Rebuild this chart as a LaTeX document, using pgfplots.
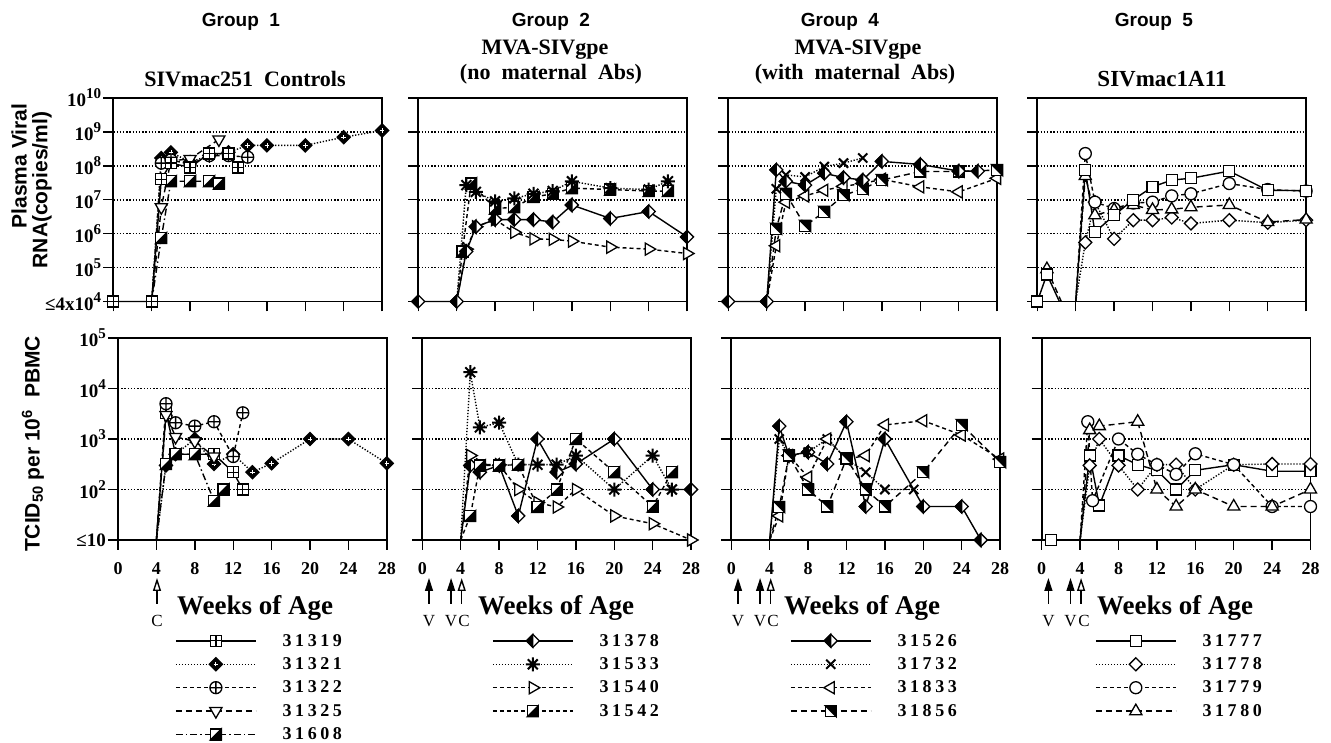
\documentclass[border=0pt]{standalone}
\usepackage{fontspec}
\setmainfont{Liberation Serif}
\newfontfamily\hsans{Liberation Sans}
\usepackage{pgfplots}
\pgfplotsset{compat=1.18}
\usetikzlibrary{arrows.meta}

% ---------- custom marks ----------
\pgfdeclareplotmark{sqplus}{%
  \pgfpathrectangle{\pgfqpoint{-\pgfplotmarksize}{-\pgfplotmarksize}}{\pgfqpoint{2\pgfplotmarksize}{2\pgfplotmarksize}}%
  \pgfusepathqfillstroke
  \pgfpathmoveto{\pgfqpoint{-\pgfplotmarksize}{0pt}}\pgfpathlineto{\pgfqpoint{\pgfplotmarksize}{0pt}}%
  \pgfpathmoveto{\pgfqpoint{0pt}{-\pgfplotmarksize}}\pgfpathlineto{\pgfqpoint{0pt}{\pgfplotmarksize}}%
  \pgfusepathqstroke}
\pgfdeclareplotmark{sqBR}{%
  \pgfpathrectangle{\pgfqpoint{-\pgfplotmarksize}{-\pgfplotmarksize}}{\pgfqpoint{2\pgfplotmarksize}{2\pgfplotmarksize}}%
  \pgfusepathqfillstroke
  \pgfscope\pgfsetfillcolor{black}%
  \pgfpathmoveto{\pgfqpoint{\pgfplotmarksize}{\pgfplotmarksize}}%
  \pgfpathlineto{\pgfqpoint{\pgfplotmarksize}{-\pgfplotmarksize}}%
  \pgfpathlineto{\pgfqpoint{-\pgfplotmarksize}{-\pgfplotmarksize}}%
  \pgfpathclose\pgfusepathqfillstroke
  \endpgfscope}
\pgfdeclareplotmark{sqTR}{%
  \pgfpathrectangle{\pgfqpoint{-\pgfplotmarksize}{-\pgfplotmarksize}}{\pgfqpoint{2\pgfplotmarksize}{2\pgfplotmarksize}}%
  \pgfusepathqfillstroke
  \pgfscope\pgfsetfillcolor{black}%
  \pgfpathmoveto{\pgfqpoint{-\pgfplotmarksize}{\pgfplotmarksize}}%
  \pgfpathlineto{\pgfqpoint{\pgfplotmarksize}{\pgfplotmarksize}}%
  \pgfpathlineto{\pgfqpoint{\pgfplotmarksize}{-\pgfplotmarksize}}%
  \pgfpathclose\pgfusepathqfillstroke
  \endpgfscope}
\pgfdeclareplotmark{diam}{%
  \pgfpathmoveto{\pgfqpoint{0pt}{1.3\pgfplotmarksize}}%
  \pgfpathlineto{\pgfqpoint{1.3\pgfplotmarksize}{0pt}}%
  \pgfpathlineto{\pgfqpoint{0pt}{-1.3\pgfplotmarksize}}%
  \pgfpathlineto{\pgfqpoint{-1.3\pgfplotmarksize}{0pt}}%
  \pgfpathclose\pgfusepathqfillstroke}
\pgfdeclareplotmark{diahalf}{%
  \pgfpathmoveto{\pgfqpoint{0pt}{1.3\pgfplotmarksize}}%
  \pgfpathlineto{\pgfqpoint{1.3\pgfplotmarksize}{0pt}}%
  \pgfpathlineto{\pgfqpoint{0pt}{-1.3\pgfplotmarksize}}%
  \pgfpathlineto{\pgfqpoint{-1.3\pgfplotmarksize}{0pt}}%
  \pgfpathclose\pgfusepathqfillstroke
  \pgfscope\pgfsetfillcolor{black}%
  \pgfpathmoveto{\pgfqpoint{0pt}{1.3\pgfplotmarksize}}%
  \pgfpathlineto{\pgfqpoint{-1.3\pgfplotmarksize}{0pt}}%
  \pgfpathlineto{\pgfqpoint{0pt}{-1.3\pgfplotmarksize}}%
  \pgfpathclose\pgfusepathqfillstroke
  \endpgfscope}
\pgfdeclareplotmark{diaplus}{%
  \pgfscope\pgfsetfillcolor{black}%
  \pgfpathmoveto{\pgfqpoint{0pt}{1.3\pgfplotmarksize}}%
  \pgfpathlineto{\pgfqpoint{1.3\pgfplotmarksize}{0pt}}%
  \pgfpathlineto{\pgfqpoint{0pt}{-1.3\pgfplotmarksize}}%
  \pgfpathlineto{\pgfqpoint{-1.3\pgfplotmarksize}{0pt}}%
  \pgfpathclose\pgfusepathqfillstroke
  \pgfsetstrokecolor{white}\pgfsetlinewidth{0.8pt}%
  \pgfpathmoveto{\pgfqpoint{-0.45\pgfplotmarksize}{0pt}}\pgfpathlineto{\pgfqpoint{0.45\pgfplotmarksize}{0pt}}%
  \pgfpathmoveto{\pgfqpoint{0pt}{-0.45\pgfplotmarksize}}\pgfpathlineto{\pgfqpoint{0pt}{0.45\pgfplotmarksize}}%
  \pgfusepathqstroke
  \endpgfscope}
\pgfdeclareplotmark{ast8}{%
  \pgfpathmoveto{\pgfqpoint{-\pgfplotmarksize}{0pt}}\pgfpathlineto{\pgfqpoint{\pgfplotmarksize}{0pt}}%
  \pgfpathmoveto{\pgfqpoint{0pt}{-\pgfplotmarksize}}\pgfpathlineto{\pgfqpoint{0pt}{\pgfplotmarksize}}%
  \pgfpathmoveto{\pgfqpoint{-.707\pgfplotmarksize}{-.707\pgfplotmarksize}}\pgfpathlineto{\pgfqpoint{.707\pgfplotmarksize}{.707\pgfplotmarksize}}%
  \pgfpathmoveto{\pgfqpoint{-.707\pgfplotmarksize}{.707\pgfplotmarksize}}\pgfpathlineto{\pgfqpoint{.707\pgfplotmarksize}{-.707\pgfplotmarksize}}%
  \pgfusepathqstroke}

\newcommand\tpow[1]{10\raisebox{0.42em}{\fontsize{15}{15}\selectfont #1}}

% plot styles: only TikZ keys, defined in /tikz
\tikzset{
  sBase/.style={black, line width=1.4pt, mark size=5.5pt},
  sDot/.style={dash pattern=on 1.3pt off 1.7pt},
  sDash/.style={dash pattern=on 4pt off 3pt},
  sLDash/.style={dash pattern=on 6pt off 4pt},
  sDD/.style={dash pattern=on 7pt off 3pt on 1.5pt off 3pt},
  nofirst/.style={mark phase=2, mark repeat=1},
  s31319/.style={sBase, solid, mark=sqplus, mark options={solid, fill=white, line width=1.3pt}},
  s31321/.style={sBase, sDot, mark=diaplus, mark size=5pt, mark options={solid, fill=white, line width=1.3pt}},
  s31322/.style={sBase, sDash, mark=oplus*, mark size=6pt, mark options={solid, fill=white, line width=1.3pt}},
  s31325/.style={sBase, sLDash, mark=triangle*, mark size=7pt, mark options={solid, fill=white, line width=1.3pt, rotate=180}},
  s31608/.style={sBase, sDD, mark=sqBR, mark options={solid, fill=white, line width=1.3pt}},
  s31378/.style={sBase, solid, mark=diahalf, mark size=5pt, mark options={solid, fill=white, line width=1.3pt}},
  s31533/.style={sBase, sDot, mark=ast8, mark size=7pt, mark options={solid, line width=2pt}},
  s31540/.style={sBase, sDash, mark=triangle*, mark size=7pt, mark options={solid, fill=white, line width=1.3pt, rotate=-90}},
  s31542/.style={sBase, sDash, mark=sqBR, mark options={solid, fill=white, line width=1.3pt}},
  s31526/.style={sBase, solid, mark=diahalf, mark size=5pt, mark options={solid, fill=white, line width=1.3pt}},
  s31732/.style={sBase, sDot, mark=x, mark size=6.5pt, mark options={solid, line width=2pt}},
  s31833/.style={sBase, sDash, mark=triangle*, mark size=7pt, mark options={solid, fill=white, line width=1.3pt, rotate=90}},
  s31856/.style={sBase, sLDash, mark=sqTR, mark options={solid, fill=white, line width=1.3pt}},
  s31777/.style={sBase, solid, mark=square*, mark options={solid, fill=white, line width=1.3pt}},
  s31778/.style={sBase, sDot, mark=diam, mark size=5pt, mark options={solid, fill=white, line width=1.3pt}},
  s31779/.style={sBase, sDash, mark=*, mark size=6pt, mark options={solid, fill=white, line width=1.3pt}},
  s31780/.style={sBase, sLDash, mark=triangle*, mark size=7pt, mark options={solid, fill=white, line width=1.3pt}},
}

\pgfplotsset{
  every axis/.append style={
    scale only axis, width=268.8pt, anchor=south west,
    xmin=0, xmax=28, clip=false,
    xtick={0,4,8,12,16,20,24,28},
    axis line style={line width=1.8pt},
    tick style={line width=1.4pt, black},
    major tick length=10pt, tick align=outside,
    xtick pos=left, ytick pos=left,
    yminorticks=false, xminorticks=false,
    ymajorgrids, major grid style={line width=1.6pt, black, dash pattern=on 1.4pt off 1.8pt},
    yticklabel style={font=\fontsize{19}{19}\selectfont\bfseries, inner sep=2pt},
    xticklabel style={font=\fontsize{18}{18}\selectfont\bfseries, inner sep=1pt, yshift=-11pt},
    legend cell align=left,
    legend style={draw=none, fill=none, anchor=north west, inner sep=0pt,
      font=\fontsize{18}{18}\selectfont\bfseries\addfontfeature{LetterSpace=20},
      row sep=8pt, column sep=25pt, nodes={inner sep=1pt}},
  },
  legend image code/.code={\draw[#1,mark repeat=2,mark phase=2] plot coordinates {(0pt,0pt) (40pt,0pt) (80pt,0pt)};},
}

\begin{document}
\begin{tikzpicture}[x=1pt,y=1pt]
\useasboundingbox (0,0) rectangle (1331,742);

% ================= TOP ROW =================
\begin{axis}[at={(113.3pt,440.5pt)}, height=203.5pt, ymode=log, ymin=1e4, ymax=1e10,
  ytick={1e4,1e5,1e6,1e7,1e8,1e9,1e10}, xticklabels={},
  yticklabels={{≤4x\tpow{4}},{\tpow{5}},{\tpow{6}},{\tpow{7}},{\tpow{8}},{\tpow{9}},{\tpow{10}}}]
\addplot[s31321, nofirst] coordinates {(4,1e4)(5,1.7e8)(6,2.5e8)(8,1.3e8)(10,2e8)(12,2.5e8)(14,4e8)(16,4e8)(20,4e8)(24,7e8)(28,1.1e9)};
\addplot[s31322, nofirst] coordinates {(4,1e4)(5,1.2e8)(6,1.5e8)(8,1.1e8)(10,2e8)(12,2e8)(14,1.8e8)};
\addplot[s31325, nofirst] coordinates {(4,1e4)(5,6e6)(6,1.4e8)(8,1.6e8)(11,6e8)};
\addplot[s31608, nofirst] coordinates {(4,1e4)(5,7.5e5)(6,3.5e7)(8,3.5e7)(10,3.5e7)(11,3e7)};
\addplot[s31319] coordinates {(0,1e4)(4,1e4)(5,4e7)(6,1.2e8)(8,9e7)(10,2.3e8)(12,2.3e8)(13,9e7)};
\end{axis}

\begin{axis}[at={(418.3pt,440.5pt)}, height=203.5pt, ymode=log, ymin=1e4, ymax=1e10,
  ytick={1e4,1e5,1e6,1e7,1e8,1e9,1e10}, xticklabels={}, yticklabels={}]
\addplot[s31540, nofirst] coordinates {(4,1e4)(5,3.5e5)(6,1.6e6)(8,2.6e6)(10,1.1e6)(12,7e5)(14,6.8e5)(16,6e5)(20,4e5)(24,3.5e5)(28,2.6e5)};
\addplot[s31542, nofirst] coordinates {(4,1e4)(4.6,3e5)(5.5,3e7)(8,5.5e6)(10,6e6)(12,1.2e7)(14,1.5e7)(16,2.2e7)(20,2e7)(24,1.8e7)(26,1.8e7)};
\addplot[s31533, nofirst] coordinates {(4,1e4)(5,2.7e7)(6,1.7e7)(8,9e6)(10,1.1e7)(12,1.5e7)(14,1.8e7)(16,3.5e7)(20,2.2e7)(24,2e7)(26,3.5e7)};
\addplot[s31378] coordinates {(0,1e4)(4,1e4)(5,3e5)(6,1.6e6)(8,2.6e6)(10,2.6e6)(12,2.6e6)(14,2.2e6)(16,7e6)(20,2.8e6)(24,4.5e6)(28,8e5)};
\end{axis}

\begin{axis}[at={(728.3pt,440.5pt)}, height=203.5pt, ymode=log, ymin=1e4, ymax=1e10,
  ytick={1e4,1e5,1e6,1e7,1e8,1e9,1e10}, xticklabels={}, yticklabels={}]
\addplot[s31833, nofirst] coordinates {(4,1e4)(5,4.4e5)(6,8.5e6)(8,1.3e7)(10,1.9e7)(12,2.5e7)(14,3e7)(16,4e7)(20,2.4e7)(24,1.7e7)(28,4.3e7)};
\addplot[s31856, nofirst] coordinates {(4,1e4)(5,1.4e6)(6,1.5e7)(8,1.7e6)(10,4.4e6)(12,1.35e7)(14,2.1e7)(16,3.8e7)(20,6.8e7)(24,6.8e7)(28,7.5e7)};
\addplot[s31732, nofirst] coordinates {(4,1e4)(5,2.1e7)(6,5.4e7)(8,4.7e7)(10,9.5e7)(12,1.2e8)(14,1.7e8)};
\addplot[s31526] coordinates {(0,1e4)(4,1e4)(5,7.6e7)(6,3.5e7)(8,2.7e7)(10,6e7)(12,4.5e7)(14,3.8e7)(16,1.35e8)(20,1.1e8)(24,7e7)(26,7e7)};
\end{axis}

\begin{axis}[at={(1037.3pt,440.5pt)}, height=203.5pt, ymode=log, ymin=1e4, ymax=1e10,
  ytick={1e4,1e5,1e6,1e7,1e8,1e9,1e10}, xticklabels={}, yticklabels={}]
\addplot[s31778, nofirst] coordinates {(4,1e4)(5,5.5e5)(6,8.5e6)(8,7e5)(10,2.5e6)(12,2.5e6)(14,3e6)(16,2e6)(20,2.5e6)(24,2.1e6)(28,2.5e6)};
\addplot[s31779, nofirst] coordinates {(4,1e4)(5,2.3e8)(6,8.5e6)(8,5.5e6)(10,8e6)(12,8.5e6)(14,1.3e7)(16,1.5e7)(20,3e7)(24,2e7)(28,1.8e7)};
\addplot[s31780, mark indices={1}] coordinates {(1,9e4)(2.5,1e4)};
\addplot[s31780, nofirst] coordinates {(4,1e4)(5,5e7)(6,3.5e6)(8,5e6)(10,7e6)(12,5e6)(14,5.2e6)(16,6e6)(20,7e6)(24,2.2e6)(28,2.6e6)};
\addplot[s31777, mark indices={1,2}] coordinates {(0,1e4)(1,6.3e4)(2.3,1e4)};
\addplot[s31777, nofirst] coordinates {(4,1e4)(5,7.4e7)(6,1.1e6)(8,3.5e6)(10,1e7)(12,2.4e7)(14,3.8e7)(16,4.3e7)(20,7e7)(24,1.9e7)(28,1.85e7)};
\end{axis}

% ================= BOTTOM ROW =================
\begin{axis}[at={(118pt,202pt)}, height=202pt, ymode=log, ymin=10, ymax=1e5,
  ytick={10,100,1000,10000,100000}, xticklabels={0,4,8,12,16,20,24,28},
  yticklabels={{≤10},{\tpow{2}},{\tpow{3}},{\tpow{4}},{\tpow{5}}},
  legend style={at={(0.212,-0.46)}}]
\addplot[s31319, nofirst] coordinates {(4,10)(5,3300)(6,500)(8,500)(10,500)(12,220)(13,100)};
\addlegendentry{31319}
\addplot[s31321, nofirst] coordinates {(4,10)(5,300)(6,500)(8,1000)(10,320)(12,500)(14,220)(16,330)(20,1000)(24,1000)(28,330)};
\addlegendentry{31321}
\addplot[s31322, nofirst] coordinates {(4,10)(5,5000)(6,2100)(8,1800)(10,2200)(12,450)(13,3300)};
\addlegendentry{31322}
\addplot[s31325, nofirst] coordinates {(4,10)(5,3000)(6,1100)(8,900)(10,450)};
\addlegendentry{31325}
\addplot[s31608, nofirst] coordinates {(4,10)(5,320)(6,500)(8,500)(10,60)(11,100)};
\addlegendentry{31608}
\end{axis}

\begin{axis}[at={(422.3pt,202pt)}, height=202pt, ymode=log, ymin=10, ymax=1e5,
  ytick={10,100,1000,10000,100000}, xticklabels={0,4,8,12,16,20,24,28}, yticklabels={},
  legend style={at={(0.259,-0.46)}}]
\addplot[s31378, nofirst] coordinates {(4,10)(5,300)(6,220)(8,300)(10,30)(12,1000)(14,220)(16,320)(20,1000)(24,100)(28,100)};
\addlegendentry{31378}
\addplot[s31533, nofirst] coordinates {(4,10)(5,21000)(6,1700)(8,2100)(10,310)(12,310)(14,310)(16,470)(20,100)(24,470)(26,100)};
\addlegendentry{31533}
\addplot[s31540, nofirst] coordinates {(4,10)(5,470)(6,310)(8,310)(10,100)(12,55)(14,45)(16,100)(20,30)(24,21)(28,10)};
\addlegendentry{31540}
\addplot[s31542, nofirst] coordinates {(4,10)(5,30)(6,300)(8,300)(10,310)(12,45)(14,100)(16,1000)(20,220)(24,46)(26,220)};
\addlegendentry{31542}
\end{axis}

\begin{axis}[at={(731.3pt,202pt)}, height=202pt, ymode=log, ymin=10, ymax=1e5,
  ytick={10,100,1000,10000,100000}, xticklabels={0,4,8,12,16,20,24,28}, yticklabels={},
  legend style={at={(0.218,-0.46)}}]
\addplot[s31526, nofirst] coordinates {(4,10)(5,1800)(6,470)(8,550)(10,320)(12,2200)(14,46)(16,1000)(20,46)(24,46)(26,10)};
\addlegendentry{31526}
\addplot[s31732, nofirst] coordinates {(4,10)(5,1000)(6,470)(8,550)(10,1000)(12,400)(14,220)(16,100)(19,100)};
\addlegendentry{31732}
\addplot[s31833, nofirst] coordinates {(4,10)(5,30)(6,470)(8,175)(10,1000)(12,400)(14,470)(16,1900)(20,2300)(24,1200)(28,400)};
\addlegendentry{31833}
\addplot[s31856, nofirst] coordinates {(4,10)(5,45)(6,470)(8,100)(10,46)(12,410)(14,100)(16,46)(20,220)(24,1900)(28,350)};
\addlegendentry{31856}
\end{axis}

\begin{axis}[at={(1041.7pt,202pt)}, height=202pt, ymode=log, ymin=10, ymax=1e5,
  ytick={10,100,1000,10000,100000}, xticklabels={0,4,8,12,16,20,24,28}, yticklabels={},
  legend style={at={(0.198,-0.46)}}]
\addplot[s31777, forget plot] coordinates {(1,10)};
\addplot[s31777, nofirst] coordinates {(4,10)(5,470)(6,48)(8,470)(10,310)(12,240)(14,100)(16,240)(20,310)(24,230)(28,230)};
\addlegendentry{31777}
\addplot[s31778, nofirst] coordinates {(4,10)(5,300)(6,1000)(8,300)(10,100)(12,310)(14,310)(16,100)(20,310)(24,320)(28,320)};
\addlegendentry{31778}
\addplot[s31779, nofirst] coordinates {(4,10)(4.8,2200)(5.3,60)(8,1000)(10,500)(12,310)(14,200)(16,510)(20,310)(24,46)(28,46)};
\addlegendentry{31779}
\addplot[s31780, nofirst] coordinates {(4,10)(5,1500)(6,1800)(10,2200)(12,100)(14,46)(16,100)(20,46)(24,46)(28,100)};
\addlegendentry{31780}
\end{axis}

% ================= TITLES =================
\begin{scope}[every node/.style={inner sep=0pt}]
\node[font=\hsans\bfseries\fontsize{19}{19}\selectfont] at (241,720) {Group\ \ 1};
\node[font=\hsans\bfseries\fontsize{19}{19}\selectfont] at (551,720) {Group\ \ 2};
\node[font=\hsans\bfseries\fontsize{19}{19}\selectfont] at (840,720) {Group\ \ 4};
\node[font=\hsans\bfseries\fontsize{19}{19}\selectfont] at (1154,720) {Group\ \ 5};
\node[font=\bfseries\fontsize{22}{22}\selectfont] at (245,663) {SIVmac251\ \ Controls};
\node[font=\bfseries\fontsize{22}{22}\selectfont] at (545,692) {MVA-SIVgpe};
\node[font=\bfseries\fontsize{22}{22}\selectfont] at (551,668) {(no\ \ maternal\ \ Abs)};
\node[font=\bfseries\fontsize{22}{22}\selectfont] at (858,692) {MVA-SIVgpe};
\node[font=\bfseries\fontsize{22}{22}\selectfont] at (855,668) {(with\ \ maternal\ \ Abs)};
\node[font=\bfseries\fontsize{23}{23}\selectfont] at (1162,663) {SIVmac1A11};
% y labels
\node[rotate=90, font=\hsans\bfseries\fontsize{21}{21}\selectfont] at (19,576) {Plasma Viral};
\node[rotate=90, font=\hsans\bfseries\fontsize{21}{21}\selectfont] at (42,552) {RNA(copies/ml)};
\node[rotate=90, font=\hsans\bfseries\fontsize{21}{21}\selectfont] at (33,298) {TCID\textsubscript{50} per 10\textsuperscript{6}\ \ PBMC};
% weeks of age
\foreach \x in {177,478,784,1097}
  \node[anchor=west, font=\bfseries\fontsize{27}{27}\selectfont] at (\x,134) {Weeks\ of\ Age};
% arrows
\foreach \x in {429,451.1,738,760.1,1048.4,1070.5}
  \draw[line width=1.4pt, -{Triangle[length=13pt,width=8pt]}] (\x,138) -- (\x,164);
\foreach \x in {157,461.7,770.7,1081.1}
  \draw[line width=1.4pt, -{Triangle[open,length=13pt,width=8pt,fill=white]}] (\x,138) -- (\x,164);
\foreach \x/\t in {157/C,429/V,451.1/V,464/C,738/V,760.1/V,773/C,1048.4/V,1070.5/V,1084/C}
  \node[font=\fontsize{17}{17}\selectfont] at (\x,121) {\t};
\end{scope}
\end{tikzpicture}
\end{document}
